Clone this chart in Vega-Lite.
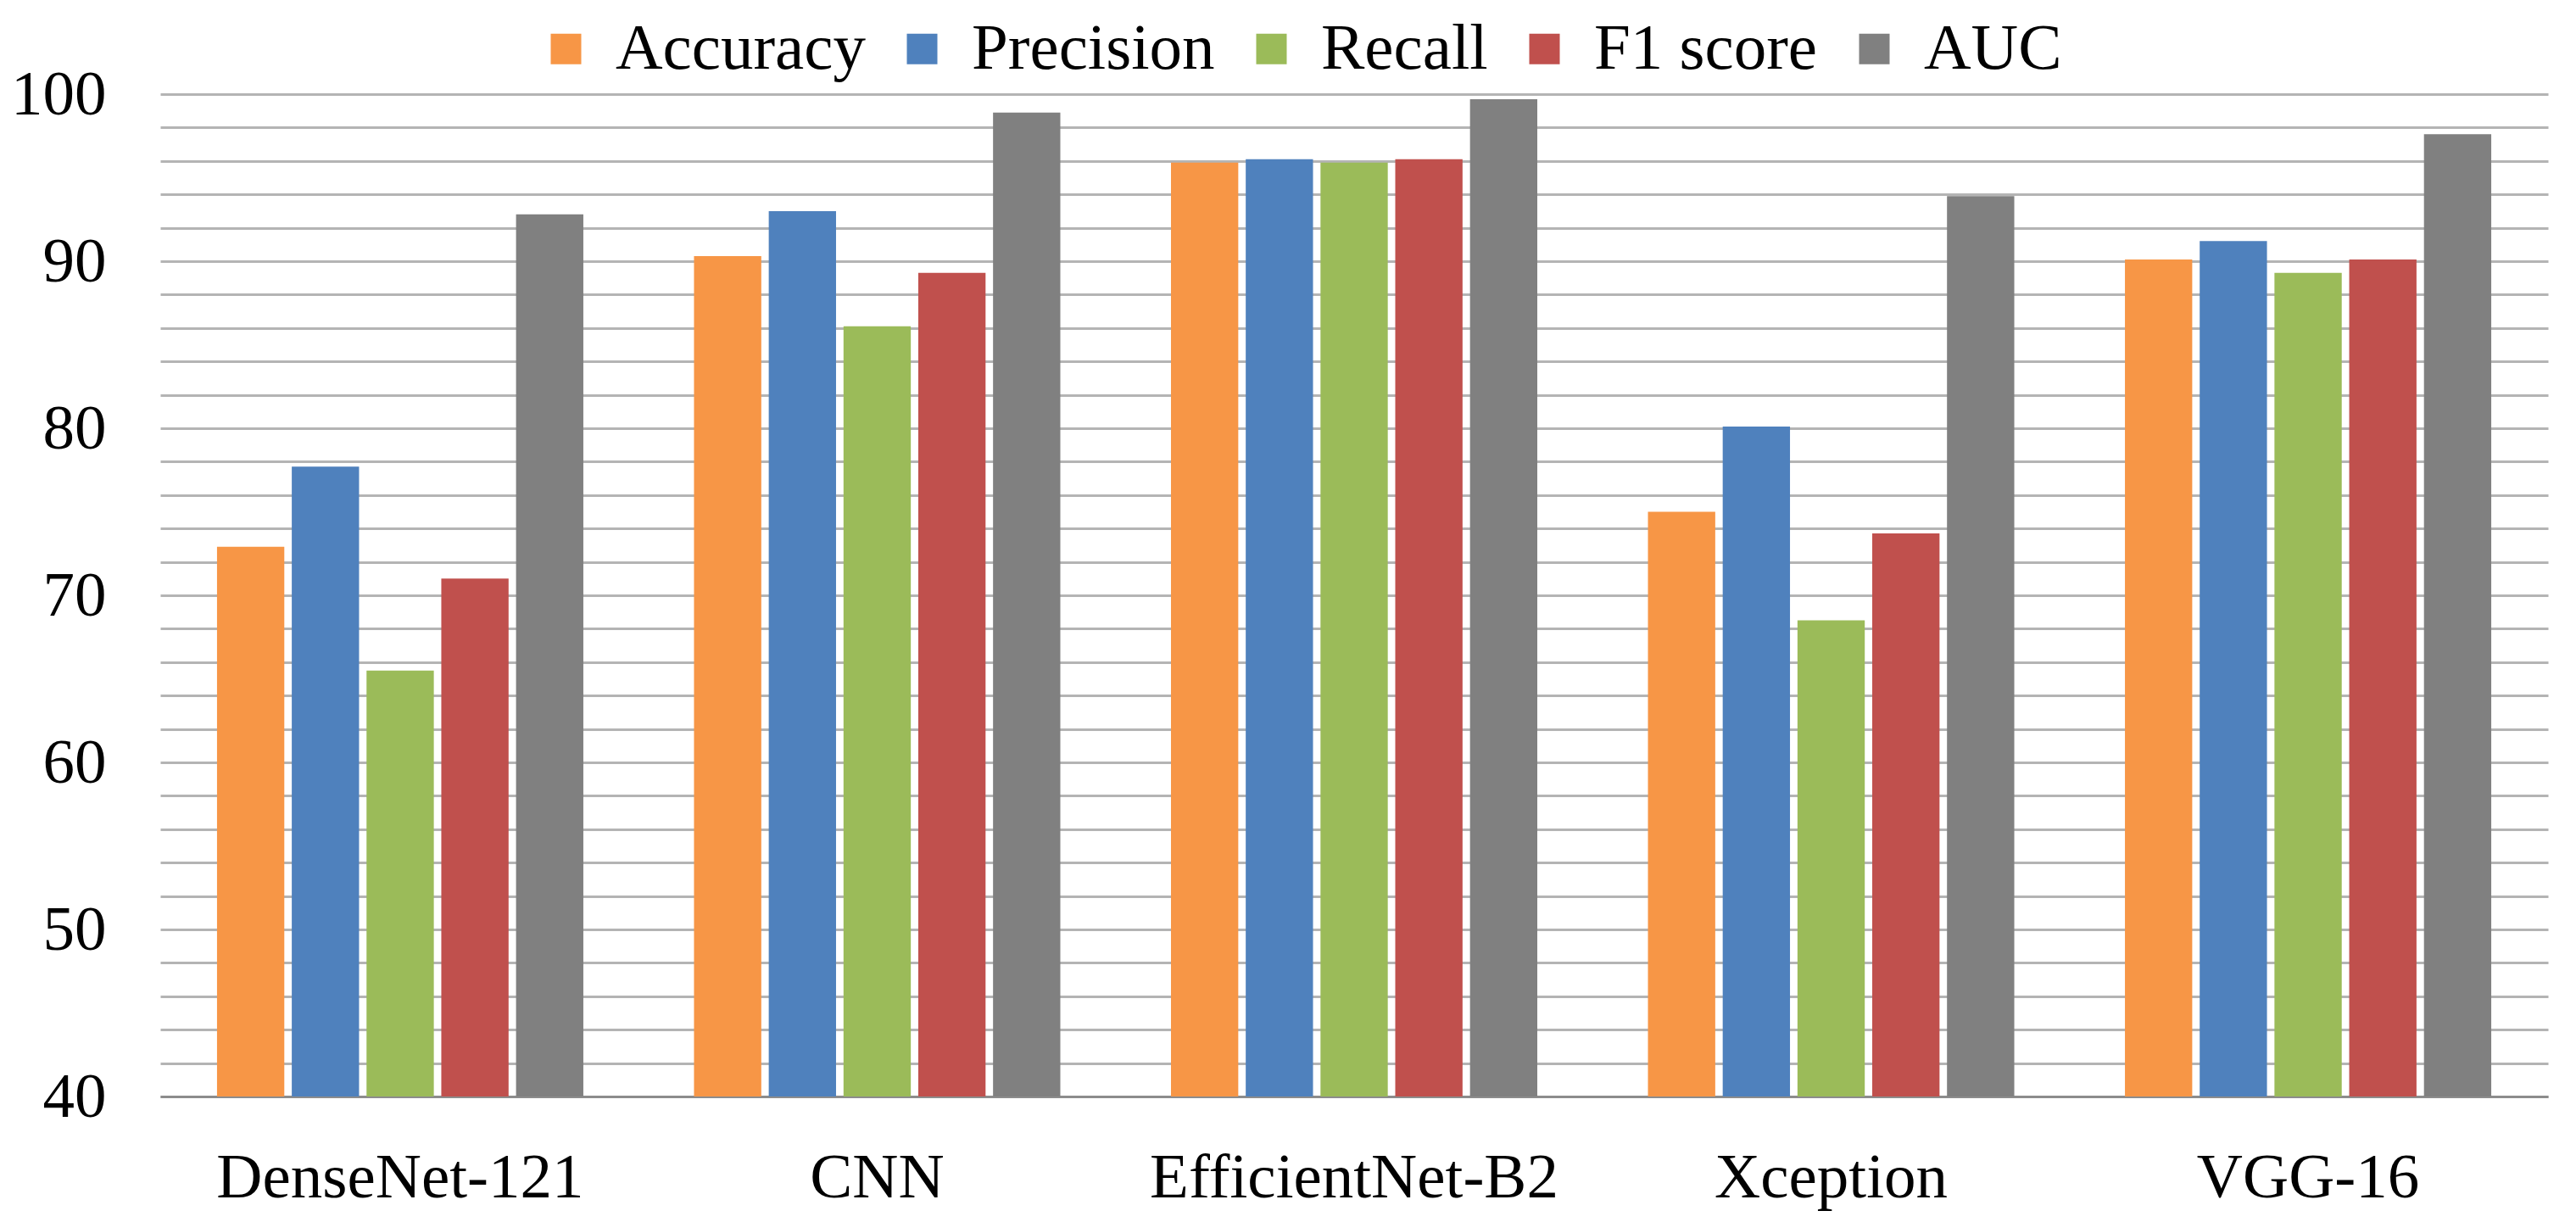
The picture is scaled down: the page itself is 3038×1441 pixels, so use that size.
{
  "$schema": "https://vega.github.io/schema/vega-lite/v6.json",
  "width": 2816,
  "height": 1182,
  "autosize": {"type": "none"},
  "padding": {"left": 189, "top": 111, "right": 33, "bottom": 148},
  "background": "white",
  "data": {
    "values": [
      {"model": "DenseNet-121", "metric": "Accuracy", "value": 72.9},
      {"model": "DenseNet-121", "metric": "Precision", "value": 77.7},
      {"model": "DenseNet-121", "metric": "Recall", "value": 65.5},
      {"model": "DenseNet-121", "metric": "F1 score", "value": 71.0},
      {"model": "DenseNet-121", "metric": "AUC", "value": 92.8},
      {"model": "CNN", "metric": "Accuracy", "value": 90.3},
      {"model": "CNN", "metric": "Precision", "value": 93.0},
      {"model": "CNN", "metric": "Recall", "value": 86.1},
      {"model": "CNN", "metric": "F1 score", "value": 89.3},
      {"model": "CNN", "metric": "AUC", "value": 98.9},
      {"model": "EfficientNet-B2", "metric": "Accuracy", "value": 95.9},
      {"model": "EfficientNet-B2", "metric": "Precision", "value": 96.1},
      {"model": "EfficientNet-B2", "metric": "Recall", "value": 95.9},
      {"model": "EfficientNet-B2", "metric": "F1 score", "value": 96.1},
      {"model": "EfficientNet-B2", "metric": "AUC", "value": 99.7},
      {"model": "Xception", "metric": "Accuracy", "value": 75.0},
      {"model": "Xception", "metric": "Precision", "value": 80.1},
      {"model": "Xception", "metric": "Recall", "value": 68.5},
      {"model": "Xception", "metric": "F1 score", "value": 73.7},
      {"model": "Xception", "metric": "AUC", "value": 93.9},
      {"model": "VGG-16", "metric": "Accuracy", "value": 90.1},
      {"model": "VGG-16", "metric": "Precision", "value": 91.2},
      {"model": "VGG-16", "metric": "Recall", "value": 89.3},
      {"model": "VGG-16", "metric": "F1 score", "value": 90.1},
      {"model": "VGG-16", "metric": "AUC", "value": 97.6}
    ]
  },
  "mark": {"type": "bar", "clip": true},
  "encoding": {
    "x": {
      "field": "model",
      "type": "nominal",
      "sort": ["DenseNet-121", "CNN", "EfficientNet-B2", "Xception", "VGG-16"],
      "scale": {"paddingInner": 0.232, "paddingOuter": 0.119},
      "axis": {
        "title": null,
        "labelAngle": 0,
        "labelFont": "Liberation Serif",
        "labelFontSize": 75,
        "labelColor": "#000000",
        "labelPadding": 59,
        "labelLimit": 0,
        "ticks": false,
        "tickSize": 0,
        "domain": true,
        "domainColor": "#8c8c8c",
        "domainWidth": 3,
        "grid": false
      }
    },
    "xOffset": {
      "field": "metric",
      "type": "nominal",
      "sort": ["Accuracy", "Precision", "Recall", "F1 score", "AUC"],
      "scale": {"paddingInner": 0.1, "paddingOuter": 0}
    },
    "y": {
      "field": "value",
      "type": "quantitative",
      "scale": {"domain": [40, 100], "zero": false, "nice": false},
      "axis": {
        "title": null,
        "values": [40, 42, 44, 46, 48, 50, 52, 54, 56, 58, 60, 62, 64, 66, 68, 70, 72, 74, 76, 78, 80, 82, 84, 86, 88, 90, 92, 94, 96, 98, 100],
        "labelExpr": "datum.value % 10 === 0 ? datum.label : ''",
        "labelFont": "Liberation Serif",
        "labelFontSize": 75,
        "labelColor": "#000000",
        "labelPadding": 64,
        "ticks": false,
        "tickSize": 0,
        "domain": false,
        "grid": true,
        "gridColor": "#b4b4b4",
        "gridWidth": 3
      }
    },
    "y2": {"datum": 40},
    "color": {
      "field": "metric",
      "type": "nominal",
      "sort": ["Accuracy", "Precision", "Recall", "F1 score", "AUC"],
      "scale": {
        "domain": ["Accuracy", "Precision", "Recall", "F1 score", "AUC"],
        "range": ["#F79646", "#4F81BD", "#9BBB59", "#C0504D", "#808080"]
      },
      "legend": {
        "title": null,
        "orient": "none",
        "direction": "horizontal",
        "legendX": 440,
        "legendY": -92,
        "padding": 0,
        "symbolType": "square",
        "symbolSize": 1296,
        "symbolStrokeWidth": 0,
        "labelFont": "Liberation Serif",
        "labelFontSize": 77,
        "labelColor": "#000000",
        "labelOffset": 20,
        "columnPadding": 28,
        "labelLimit": 0
      }
    }
  },
  "config": {
    "view": {"stroke": null},
    "axis": {"gridOpacity": 1}
  }
}
